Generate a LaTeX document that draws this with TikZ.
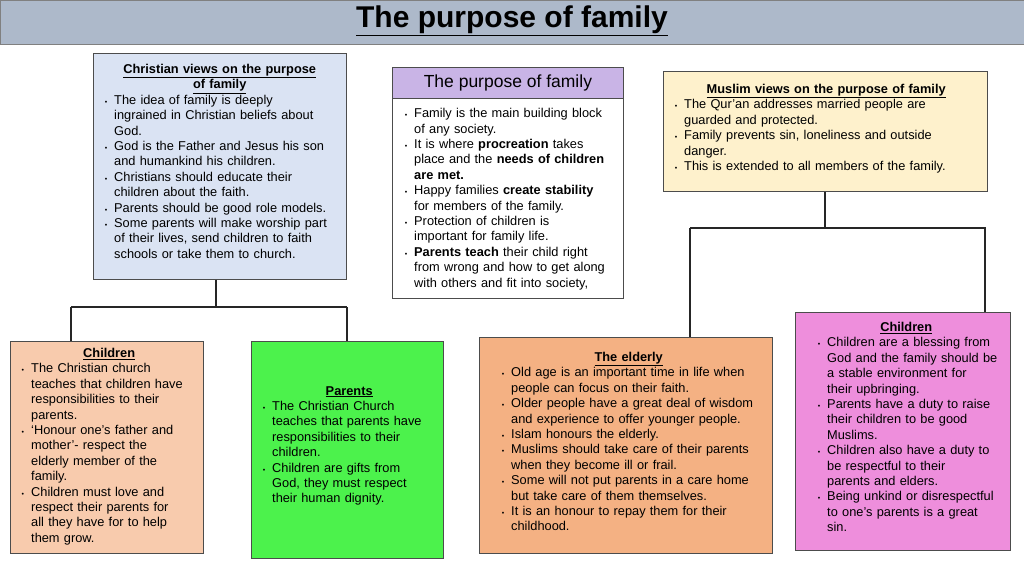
\documentclass[tikz,border=0pt]{standalone}
\usepackage{fontspec}
\setmainfont{Liberation Sans}
\usepackage{enumitem}
\newcommand{\hd}[1]{\textbf{\underline{#1}}}
\newenvironment{bl}[1][17pt]{\begin{itemize}[leftmargin=#1,labelsep=7pt,nosep,label={\scriptsize\textbullet}]}{\end{itemize}}
\tikzset{box/.style={draw=#1!60!black,line width=0.8pt,inner sep=0pt,anchor=north west},
 txt/.style={anchor=north west,inner sep=0pt,align=left,font=\fontsize{12.8}{15.4}\selectfont},
 conn/.style={line width=2.6pt,black!85}}
\begin{document}
\begin{tikzpicture}[x=1pt,y=-1pt]
\useasboundingbox (0,0) rectangle (1024,576);
\fill[white] (0,0) rectangle (1024,576);
% title
\draw[fill={rgb,255:red,173;green,185;blue,202},draw=black!50] (0,0) rectangle (1024,44);
\node (title) at (512,21) {\fontsize{30}{32}\selectfont\bfseries\underline{The purpose of family}};
% Christian box
\node[box=gray,fill={rgb,255:red,218;green,227;blue,243},minimum width=253pt,minimum height=226pt] (cv) at (93,53) {};
\node[txt,text width=245pt] (cvt) at (97,64) {\centering\hd{Christian views on the purpose}\\ \hd{of family}\par
\begin{bl}
\item The idea of family is deeply\\ ingrained in Christian beliefs about\\ God.
\item God is the Father and Jesus his son\\ and humankind his children.
\item Christians should educate their\\ children about the faith.
\item Parents should be good role models.
\item Some parents will make worship part\\ of their lives, send children to faith\\ schools or take them to church.
\end{bl}};
% purpose box
\node[box=gray,fill={rgb,255:red,201;green,180;blue,230},minimum width=231pt,minimum height=31pt] (ph) at (392,67) {};
\node at (ph.center) {\fontsize{17.5}{20}\selectfont The purpose of family};
\node[box=gray,fill=white,minimum width=231pt,minimum height=200pt] (pb) at (392,98) {};
\node[txt,text width=225pt] (pbt) at (397,102) {\begin{bl}
\item Family is the main building block\\ of any society.
\item It is where \textbf{procreation} takes\\ place and the \textbf{needs of children}\\ \textbf{are met.}
\item Happy families \textbf{create stability}\\ for members of the family.
\item Protection of children is\\ important for family life.
\item \textbf{Parents teach} their child right\\ from wrong and how to get along\\ with others and fit into society,
\end{bl}};
% Muslim box
\node[box=gray,fill={rgb,255:red,254;green,241;blue,204},minimum width=324pt,minimum height=120pt] (mv) at (663,71) {};
\node[txt,text width=318pt] (mvt) at (667,84) {\centering\hd{Muslim views on the purpose of family}\par
\begin{bl}
\item The Qur'an addresses married people are\\ guarded and protected.
\item Family prevents sin, loneliness and outside\\ danger.
\item This is extended to all members of the family.
\end{bl}};
% Children left
\node[box=gray,fill={rgb,255:red,248;green,203;blue,173},minimum width=193pt,minimum height=212pt] (cl) at (10,341) {};
\node[txt,text width=190pt] (clt) at (14,348) {\centering\hd{Children}\par
\begin{bl}
\item The Christian church\\ teaches that children have\\ responsibilities to their\\ parents.
\item `Honour one's father and\\ mother'- respect the\\ elderly member of the\\ family.
\item Children must love and\\ respect their parents for\\ all they have for to help\\ them grow.
\end{bl}};
% Parents
\node[box=gray,fill={rgb,255:red,76;green,242;blue,76},minimum width=192pt,minimum height=217pt] (pa) at (251,341) {};
\node[txt,text width=188pt] (pat) at (255,386) {\centering\hd{Parents}\par
\begin{bl}
\item The Christian Church\\ teaches that parents have\\ responsibilities to their\\ children.
\item Children are gifts from\\ God, they must respect\\ their human dignity.
\end{bl}};
% Elderly
\node[box=gray,fill={rgb,255:red,244;green,177;blue,131},minimum width=293pt,minimum height=216pt] (el) at (479,337) {};
\node[txt,text width=289pt] (elt) at (484,352) {\centering\hd{The elderly}\par
\begin{bl}[27pt]
\item Old age is an important time in life when\\ people can focus on their faith.
\item Older people have a great deal of wisdom\\ and experience to offer younger people.
\item Islam honours the elderly.
\item Muslims should take care of their parents\\ when they become ill or frail.
\item Some will not put parents in a care home\\ but take care of them themselves.
\item It is an honour to repay them for their\\ childhood.
\end{bl}};
% Muslim children
\node[box=gray,fill={rgb,255:red,238;green,142;blue,220},minimum width=215pt,minimum height=238pt] (mc) at (795,312) {};
\node[txt,text width=212pt] (mct) at (800,322) {\centering\hd{Children}\par
\begin{bl}[27pt]
\item Children are a blessing from\\ God and the family should be\\ a stable environment for\\ their upbringing.
\item Parents have a duty to raise\\ their children to be good\\ Muslims.
\item Children also have a duty to\\ be respectful to their\\ parents and elders.
\item Being unkind or disrespectful\\ to one's parents is a great\\ sin.
\end{bl}};
% connectors
\coordinate (j1) at (216,307);
\coordinate (j2) at (825,228);
\draw[conn] (cv.south -| j1) -- (j1);
\draw[conn] (71,307) -- (347,307);
\draw[conn] (71,307) -- (cl.north -| 71,0);
\draw[conn] (347,307) -- (pa.north -| 347,0);
\draw[conn] (mv.south -| j2) -- (j2);
\draw[conn] (690,228) -- (986,228);
\draw[conn] (690,228) -- (el.north -| 690,0);
\draw[conn] (985,228) -- (mc.north -| 985,0);
\end{tikzpicture}
\end{document}
